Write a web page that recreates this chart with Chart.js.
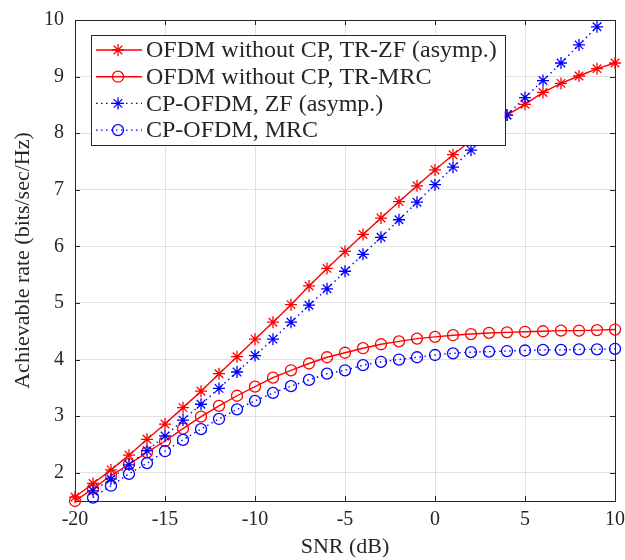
<!DOCTYPE html>
<html>
<head>
<meta charset="utf-8">
<script src="https://cdn.jsdelivr.net/npm/chart.js@4/dist/chart.umd.min.js"></script>
<style>
  body { margin: 0; background: #fff; }
  canvas { display: block; }
</style>
</head>
<body>
<canvas id="rateChart" width="625" height="560"></canvas>
<script>
  const snr = [-20, -19, -18, -17, -16, -15, -14, -13, -12, -11, -10, -9, -8, -7, -6, -5,
               -4, -3, -2, -1, 0, 1, 2, 3, 4, 5, 6, 7, 8, 9, 10]

  const noCpZf = [1.57, 1.81, 2.05, 2.31, 2.59, 2.86, 3.15, 3.44, 3.75, 4.05, 4.36, 4.66, 4.97, 5.30, 5.61, 5.91,
                  6.21, 6.50, 6.79, 7.07, 7.35, 7.62, 7.87, 8.10, 8.32, 8.51, 8.72, 8.88, 9.01, 9.14, 9.24]
  const noCpMrc = [1.50, 1.72, 1.95, 2.15, 2.36, 2.56, 2.78, 2.99, 3.18, 3.36, 3.52, 3.68, 3.81, 3.93, 4.04, 4.12,
                   4.20, 4.27, 4.32, 4.37, 4.40, 4.43, 4.45, 4.47, 4.48, 4.49, 4.50, 4.51, 4.51, 4.52, 4.53]
  const cpZf = [null, 1.68, 1.89, 2.14, 2.39, 2.65, 2.93, 3.21, 3.49, 3.78, 4.07, 4.36, 4.66, 4.96, 5.25, 5.56,
                5.86, 6.16, 6.47, 6.78, 7.09, 7.40, 7.70, 8.01, 8.32, 8.63, 8.93, 9.24, 9.56, 9.88, 10.19]
  const cpMrc = [null, 1.56, 1.77, 1.98, 2.17, 2.38, 2.58, 2.77, 2.95, 3.12, 3.27, 3.41, 3.53, 3.64, 3.75, 3.81,
                 3.90, 3.96, 4.00, 4.04, 4.08, 4.11, 4.13, 4.14, 4.15, 4.16, 4.17, 4.17, 4.18, 4.18, 4.19]

  const seriesLabels = [
    "OFDM without CP, TR-ZF (asymp.)",
    "OFDM without CP, TR-MRC",
    "CP-OFDM, ZF (asymp.)",
    "CP-OFDM, MRC"
  ]
  const xTicks = [-20, -15, -10, -5, 0, 5, 10]
  const yTicks = [2, 3, 4, 5, 6, 7, 8, 9, 10]

  const RED = "#ff0000"
  const BLUE = "#0000ff"
  const AXIS = "#262626"
  const SERIF = "'Liberation Serif', 'Times New Roman', serif"

  const makeSet = (label, data, color, style, dashed, order) => ({
    label: label,
    data: data.map((v, i) => ({ x: snr[i], y: v })),
    borderColor: color,
    backgroundColor: "rgba(0,0,0,0)",
    borderWidth: 1.4,
    borderDash: dashed ? [1.5, 3.5] : [],
    pointStyle: style,
    pointRadius: style === "star" ? 6 : 5.5,
    pointBorderColor: color,
    pointBackgroundColor: "rgba(0,0,0,0)",
    pointBorderWidth: 1.3,
    tension: 0,
    spanGaps: false,
    order: order,
    clip: { left: 12, right: 12, top: 0, bottom: 12 }
  })

  const drawMarker = (ctx, style, x, y, r) => {
    ctx.beginPath()
    if (style === "circle") {
      ctx.arc(x, y, r, 0, Math.PI * 2)
    } else {
      const d = r * Math.SQRT1_2
      ctx.moveTo(x - r, y); ctx.lineTo(x + r, y)
      ctx.moveTo(x, y - r); ctx.lineTo(x, y + r)
      ctx.moveTo(x - d, y - d); ctx.lineTo(x + d, y + d)
      ctx.moveTo(x - d, y + d); ctx.lineTo(x + d, y - d)
    }
    ctx.stroke()
  }

  // axes box with inward ticks, like matlab
  const boxPlugin = {
    id: "box",
    beforeDatasetsDraw(chart) {
      const { ctx, chartArea: a, scales } = chart
      ctx.save()
      ctx.strokeStyle = AXIS
      ctx.lineWidth = 1
      ctx.strokeRect(a.left + 0.5, a.top + 0.5, a.right - a.left, a.bottom - a.top)
      ctx.beginPath()
      for (const v of xTicks) {
        const px = Math.round(scales.x.getPixelForValue(v)) + 0.5
        ctx.moveTo(px, a.bottom); ctx.lineTo(px, a.bottom - 5)
        ctx.moveTo(px, a.top); ctx.lineTo(px, a.top + 5)
      }
      for (const v of yTicks) {
        const py = Math.round(scales.y.getPixelForValue(v)) + 0.5
        ctx.moveTo(a.left, py); ctx.lineTo(a.left + 5, py)
        ctx.moveTo(a.right, py); ctx.lineTo(a.right - 5, py)
      }
      ctx.stroke()
      ctx.restore()
    }
  }

  const legendPlugin = {
    id: "insideLegend",
    afterDatasetsDraw(chart) {
      const { ctx, chartArea: a } = chart
      const sets = chart.data.datasets
      ctx.save()
      ctx.font = "24px " + SERIF
      const textW = Math.max(...sets.map(s => ctx.measureText(s.label).width))
      const x0 = a.left + 16, y0 = a.top + 15
      const w = 55 + textW + 8, rowH = 26.7, h = 110
      ctx.fillStyle = "#fff"
      ctx.fillRect(x0, y0, w, h)
      ctx.strokeStyle = AXIS
      ctx.lineWidth = 1
      ctx.strokeRect(Math.round(x0) + 0.5, Math.round(y0) + 0.5, Math.round(w), h)
      sets.forEach((s, i) => {
        const cy = y0 + 15 + i * rowH
        ctx.strokeStyle = s.borderColor
        ctx.lineWidth = s.borderWidth
        ctx.setLineDash(s.borderDash)
        ctx.beginPath()
        ctx.moveTo(x0 + 5, cy); ctx.lineTo(x0 + 51, cy)
        ctx.stroke()
        ctx.setLineDash([])
        ctx.lineWidth = s.pointBorderWidth
        drawMarker(ctx, s.pointStyle, x0 + 27, cy, s.pointRadius)
        ctx.fillStyle = AXIS
        ctx.textBaseline = "middle"
        ctx.fillText(s.label, x0 + 55, cy + 1)
      })
      ctx.restore()
    }
  }

  new Chart(rateChart, {
    type: "line",
    data: {
      datasets: [
        makeSet(seriesLabels[0], noCpZf, RED, "star", false, 2),
        makeSet(seriesLabels[1], noCpMrc, RED, "circle", false, 2),
        makeSet(seriesLabels[2], cpZf, BLUE, "star", true, 1),
        makeSet(seriesLabels[3], cpMrc, BLUE, "circle", true, 1)
      ]
    },
    options: {
      responsive: false,
      animation: false,
      events: [],
      layout: { padding: { top: 20, right: 10, left: 0, bottom: 0 } },
      plugins: { legend: { display: false }, tooltip: { enabled: false } },
      scales: {
        x: {
          type: "linear",
          min: -20,
          max: 10,
          afterBuildTicks: (s) => { s.ticks = xTicks.map(v => ({ value: v })) },
          afterFit: (s) => { s.height = 59; s.paddingLeft = 0; s.paddingRight = 0 },
          grid: { color: "#e0e0e0", drawTicks: false },
          border: { display: false },
          ticks: { color: AXIS, font: { family: SERIF, size: 20 }, padding: 7, maxRotation: 0 },
          title: { display: true, text: "SNR (dB)", color: AXIS, font: { family: SERIF, size: 22 }, padding: { top: 0, bottom: 0 } }
        },
        y: {
          type: "linear",
          min: 1.5,
          max: 10,
          afterBuildTicks: (s) => { s.ticks = yTicks.map(v => ({ value: v })) },
          afterFit: (s) => { s.width = 75; s.paddingTop = 0; s.paddingBottom = 0 },
          grid: { color: "#e0e0e0", drawTicks: false },
          border: { display: false },
          ticks: { color: AXIS, font: { family: SERIF, size: 20 }, padding: 11 },
          title: { display: true, text: "Achievable rate (bits/sec/Hz)", color: AXIS, font: { family: SERIF, size: 22 }, padding: { top: 10, bottom: 0 } }
        }
      }
    },
    plugins: [boxPlugin, legendPlugin]
  })
</script>
</body>
</html>
